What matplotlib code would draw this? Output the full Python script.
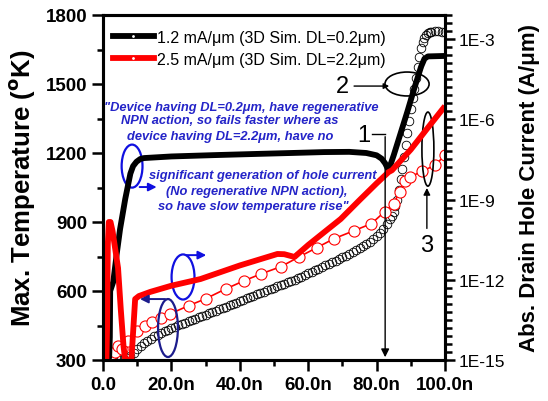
import numpy as np
import matplotlib
matplotlib.use("Agg")
import matplotlib.pyplot as plt
from matplotlib.lines import Line2D
from matplotlib.patches import Ellipse
from matplotlib.ticker import FixedLocator, MultipleLocator, NullFormatter

plt.rcParams["font.family"] = ["Liberation Sans", "DejaVu Sans"]

# max. temperature traces (left axis), time in ns
t_temp_12 = [0.5, 1.8, 2.0, 2.1, 3.0, 4.0, 5.0, 6.5, 8.0, 8.8, 9.8, 10.9, 12.0, 20.0, 33.0,
             45.0, 55.0, 64.7, 72.0, 77.0, 80.0, 81.5, 82.5, 83.5, 85.0, 87.0, 89.0, 91.0,
             93.0, 94.0, 95.0, 100.0]
temp_12 = [300, 310, 400, 600, 640, 760, 870, 1000, 1110, 1143, 1162, 1174, 1178, 1185, 1191,
           1196, 1200, 1204, 1205, 1200, 1190, 1175, 1155, 1125, 1190, 1285, 1380, 1480,
           1575, 1610, 1620, 1622]

t_temp_25 = [0.0, 1.0, 1.2, 1.4, 1.7, 2.2, 2.8, 3.5, 4.4, 5.2, 6.0, 6.5, 8.3, 9.4, 10.5,
             13.8, 20.0, 28.5, 40.0, 51.0, 53.0, 56.0, 60.0, 64.7, 69.5, 75.0, 80.0, 83.5,
             84.5, 90.0, 95.0, 100.0]
temp_25 = [300, 300, 450, 800, 900, 900, 860, 790, 700, 520, 360, 300, 300, 565, 578,
           596, 623, 652, 711, 761, 760, 748, 800, 856, 913, 995, 1068, 1117,
           1125, 1215, 1310, 1404]

# abs. drain hole current (right axis), stored as log10(A/um)
t_hole_12 = [1, 2, 3, 4, 5, 6, 7, 8, 9, 10, 11, 12, 13, 14, 15, 16, 17, 18, 19, 20,
             21, 22, 23, 24, 25, 26, 27, 28, 29, 30, 31, 32, 33, 34, 35, 36, 37, 38, 39, 40,
             41, 42, 43, 44, 45, 46, 47, 48, 49, 50, 51, 52, 53, 54, 55, 56, 57, 58, 59, 60,
             61, 62, 63, 64, 65, 66, 67, 68, 69, 70, 71, 72, 73, 74, 75, 76, 77, 78, 79, 80,
             81, 82, 83, 84, 84.5, 85, 85.5, 86, 86.5, 87, 87.5, 88, 88.5, 89, 89.5, 90,
             90.5, 91, 91.5, 92, 92.5, 93, 93.5, 94, 94.5, 95, 95.5, 96, 97, 98, 99, 100]
log_hole_12 = [-15.0, -15.0, -14.98, -14.98, -14.97, -14.96, -14.93, -14.85, -14.72, -14.6,
               -14.48, -14.38, -14.28, -14.2, -14.12, -14.05, -13.98, -13.92, -13.86, -13.8,
               -13.75, -13.7, -13.65, -13.6, -13.55, -13.5, -13.45, -13.4, -13.35, -13.3,
               -13.25, -13.2, -13.15, -13.1, -13.05, -13.0, -12.95, -12.9, -12.85, -12.8,
               -12.75, -12.7, -12.65, -12.6, -12.55, -12.5, -12.45, -12.4, -12.35, -12.3,
               -12.25, -12.2, -12.15, -12.1, -12.05, -12.0, -11.94, -11.88, -11.82, -11.76,
               -11.7, -11.64, -11.58, -11.52, -11.46, -11.4, -11.34, -11.28, -11.22, -11.16,
               -11.1, -11.03, -10.96, -10.89, -10.82, -10.74, -10.66, -10.57, -10.47, -10.36,
               -10.24, -10.1, -9.93, -9.72, -9.6, -9.45, -9.25, -9.0, -8.65, -8.25, -7.85,
               -7.4, -6.95, -6.5, -6.05, -5.6, -5.22, -4.85, -4.45, -4.05, -3.68, -3.35,
               -3.1, -2.95, -2.85, -2.78, -2.74, -2.72, -2.7, -2.7, -2.72, -2.75]

t_hole_25 = [1.0, 2.0, 3.5, 4.4, 5.5, 7.4, 10.0, 12.4, 14.4, 17.0, 19.7, 25.0, 30.0, 35.9,
             41.2, 46.2, 52.0, 57.4, 62.5, 67.6, 73.5, 78.5, 82.4, 85.0, 86.8, 88.2, 89.9,
             93.2, 97.0, 100.0]
log_hole_25 = [-14.95, -14.85, -14.7, -14.47, -14.6, -14.3, -13.9, -13.72, -13.57, -13.42,
               -13.27, -12.97, -12.71, -12.34, -12.04, -11.78, -11.51, -11.14, -10.8, -10.46,
               -10.16, -9.9, -9.45, -9.15, -8.7, -8.29, -8.15, -7.95, -7.72, -7.35]

x_ticks = [0, 20, 40, 60, 80, 100]
x_tick_labels = ["0.0", "20.0n", "40.0n", "60.0n", "80.0n", "100.0n"]
y_ticks = [300, 600, 900, 1200, 1500, 1800]
right_ticks = [1e-15, 1e-12, 1e-9, 1e-6, 1e-3]
right_tick_labels = ["1E-15", "1E-12", "1E-9", "1E-6", "1E-3"]

label_12 = "1.2 mA/\u03bcm (3D Sim. DL=0.2\u03bcm)"
label_25 = "2.5 mA/\u03bcm (3D Sim. DL=2.2\u03bcm)"
# each note line with its (t, T) centre
note_lines = [
    ('"Device having DL=0.2\u03bcm, have regenerative', 40.4, 1400),
    ("NPN action, so fails faster where as", 37.1, 1343),
    ("device having DL=2.2\u03bcm, have no", 37.1, 1274),
    ("significant generation of hole current", 46.8, 1104),
    ("(No regenerative NPN action),", 45.0, 1035),
    ('so have slow temperature rise"', 43.9, 970),
]

blue = "#2424c8"
ring_blue = "#1010e0"
navy = "#1c1c8c"

fig = plt.figure(figsize=(5.48, 4.02), dpi=100)
ax = fig.add_axes([103 / 548, 41 / 402, 342 / 548, 345 / 402])
ax2 = ax.twinx()
ax.set_zorder(ax2.get_zorder() + 1)
ax.patch.set_visible(False)

# hole current markers
ax2.plot(t_hole_12, 10 ** np.array(log_hole_12), linestyle="none", marker="o", ms=6.2,
         mfc="none", mec="black", mew=0.6)
ax2.plot(t_hole_25, 10 ** np.array(log_hole_25), color="red", lw=1.2, marker="o", ms=8,
         mfc="white", mec="red", mew=0.8)
ax2.set_yscale("log")
ax2.set_ylim(1e-15, 10 ** -2.1)
ax2.yaxis.set_major_locator(FixedLocator(right_ticks))
ax2.set_yticklabels(right_tick_labels)
ax2.yaxis.set_minor_locator(FixedLocator(10 ** np.arange(-15, -2.05, 0.3)))
ax2.yaxis.set_minor_formatter(NullFormatter())
ax2.tick_params(axis="y", which="major", length=7, width=1.8, labelsize=12.5, pad=3)
ax2.tick_params(axis="y", which="minor", length=5, width=1.8)
ax2.set_ylabel("Abs. Drain Hole Current (A/\u03bcm)", fontsize=16, fontweight="bold",
               labelpad=10)

# temperature lines
ax.plot(t_temp_12, temp_12, color="black", lw=4.2, solid_capstyle="butt")
ax.plot(t_temp_25, temp_25, color="red", lw=4.2, solid_capstyle="butt")
ax.set_xlim(0, 100)
ax.set_ylim(300, 1800)
ax.set_xticks(x_ticks)
ax.set_xticklabels(x_tick_labels)
ax.set_yticks(y_ticks)
ax.xaxis.set_minor_locator(MultipleLocator(10))
ax.yaxis.set_minor_locator(MultipleLocator(150))
ax.tick_params(axis="both", which="major", length=8, width=1.8, labelsize=13.5)
ax.tick_params(axis="both", which="minor", length=4.5, width=1.8)
for lab in ax.get_xticklabels() + ax.get_yticklabels():
    lab.set_fontweight("bold")
ax.set_ylabel("Max. Temperature ($\\mathbf{^{o}}$K)", fontsize=18.5, fontweight="bold",
              labelpad=6)
for a in (ax, ax2):
    for sp in a.spines.values():
        sp.set_linewidth(2.2)

handles = [Line2D([], [], color="black", lw=4.2, marker=".", ms=2, mfc="white", mec="white"),
           Line2D([], [], color="red", lw=4.2, marker=".", ms=2, mfc="white", mec="white")]
ax.legend(handles, [label_12, label_25], loc="upper left", bbox_to_anchor=(0.0, 0.985),
          frameon=False, fontsize=11.5, handlelength=2.6, handletextpad=0.15,
          labelspacing=0.45, borderaxespad=0.2)

# explanatory notes
for txt, tx, ty in note_lines:
    ax.text(tx, ty, txt, color=blue, fontsize=9.3, style="italic", fontweight="bold",
            ha="center", va="center")

# ellipses and pointers
ax.add_patch(Ellipse((8.5, 1143), 6.1, 187, fill=False, ec=ring_blue, lw=1.6))
ax.annotate("", xy=(16.5, 1052), xytext=(9.9, 1052),
            arrowprops=dict(arrowstyle="-|>", color=ring_blue, lw=1.4, mutation_scale=12))
ax.add_patch(Ellipse((23.4, 661), 6.7, 196, fill=False, ec=ring_blue, lw=1.6))
ax.annotate("", xy=(31, 756), xytext=(23.6, 756),
            arrowprops=dict(arrowstyle="-|>", color=ring_blue, lw=1.4, mutation_scale=12))
ax.add_patch(Ellipse((19.0, 439), 5.8, 252, fill=False, ec=navy, lw=1.6))
ax.annotate("", xy=(10.0, 565), xytext=(19.0, 565),
            arrowprops=dict(arrowstyle="-|>", color=navy, lw=1.4, mutation_scale=12))

ax.text(76.2, 1280, "1", fontsize=17, ha="center", va="center")
ax.plot([78.6, 82.5], [1283, 1283], color="black", lw=1)
ax.annotate("", xy=(82.5, 300), xytext=(82.5, 1283),
            arrowprops=dict(arrowstyle="-|>", color="black", lw=1, mutation_scale=12))

ax.text(69.9, 1490, "2", fontsize=17, ha="center", va="center")
ax.annotate("", xy=(84.5, 1491), xytext=(72.6, 1491),
            arrowprops=dict(arrowstyle="-|>", color="black", lw=1, mutation_scale=8))
ax.add_patch(Ellipse((88.9, 1500), 12.9, 104, fill=False, ec="black", lw=1.2))

ax.text(94.7, 800, "3", fontsize=17, ha="center", va="center")
ax.annotate("", xy=(94.7, 1060), xytext=(94.7, 860),
            arrowprops=dict(arrowstyle="-|>", color="black", lw=1, mutation_scale=10))
ax.add_patch(Ellipse((95.0, 1217), 3.5, 322, fill=False, ec="black", lw=1.2))

fig.savefig("out.png", dpi=100)
